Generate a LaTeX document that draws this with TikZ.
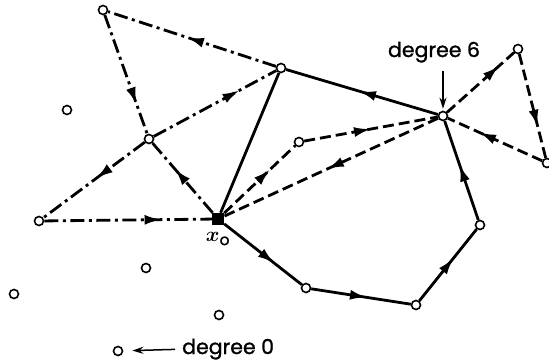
\documentclass[tikz,border=0pt]{standalone}
\usepackage{bm}
\usepackage{fontspec}
\setmainfont{Poppins}[FakeBold=1.2]
\usetikzlibrary{arrows.meta,decorations.markings}
\begin{document}
\begin{tikzpicture}[x=1pt,y=-1pt,
  vtx/.style={circle,draw,fill=white,line width=1.6pt,inner sep=0pt,minimum size=9pt},
  src/.style={rectangle,fill=black,inner sep=0pt,minimum size=12pt},
  edge/.style={line width=2.8pt},
  dd/.style={edge,dash pattern=on 14pt off 4.5pt on 3pt off 4.5pt},
  ds/.style={edge,dash pattern=on 11pt off 5pt},
  am/.style={postaction={decorate},decoration={markings,mark=at position #1 with {\arrow[solid]{Latex[length=17pt,width=10pt]}}}},
  am/.default=0.5,
  lbl/.style={font=\fontsize{20.5}{20.5}\selectfont,inner sep=0pt},
  ptr/.style={line width=1.5pt,-{Stealth[length=11pt,width=7pt]}}
]
\useasboundingbox (0,0) rectangle (549,362);
\fill[white] (0,0) rectangle (549,362);
% vertices
\node[vtx] (A) at (103,10) {};
\node[vtx] (B) at (281,68) {};
\node[vtx] (C) at (149,139) {};
\node[vtx] (D) at (39,221) {};
\node[src] (X) at (218,219) {};
\node[vtx] (E) at (443,116) {};
\node[vtx] (F) at (299,142) {};
\node[vtx] (G) at (518,49) {};
\node[vtx] (H) at (547,163) {};
\node[vtx] (I) at (480,225) {};
\node[vtx] (J) at (416,305) {};
\node[vtx] (K) at (306,288) {};
\node[vtx] (Z1) at (67,110) {};
\node[vtx] (Z2) at (146,268) {};
\node[vtx] (Z3) at (14,294) {};
\node[vtx] (Z4) at (219,315) {};
\node[vtx] (Z5) at (118,351) {};
% dash-dot edges
\draw[dd,am=0.53] (B) -- (A);
\draw[dd,am=0.75] (A) -- (C);
\draw[dd,am=0.7] (C) -- (B);
\draw[dd,am=0.48] (C) -- (D);
\draw[dd,am=0.7] (D) -- (X);
\draw[dd,am=0.63] (X) -- (C);
% solid edges
\draw[edge] (X) -- (B);
\draw[edge,am=0.52] (E) -- (B);
\draw[edge,am=0.65] (X) -- (K);
\draw[edge,am=0.56] (K) -- (J);
\draw[edge,am=0.6] (J) -- (I);
\draw[edge,am=0.56] (I) -- (E);
% dashed edges
\draw[ds,am=0.65] (X) -- (F);
\draw[ds,am=0.5] (F) -- (E);
\draw[ds,am=0.52] (E) -- (X);
\draw[ds,am=0.78] (E) -- (G);
\draw[ds,am=0.7] (G) -- (H);
\draw[ds,am=0.67] (H) -- (E);
% labels
\node[lbl,anchor=base] (d6) at (434,57) {degree 6};
\node[lbl,anchor=base west] (d0) at (182,354) {degree 0};
\node[font=\fontsize{22}{22}\selectfont,inner sep=0pt] (x0l) at (218,239) {$\bm{x}_{\mathrm o}$};
\draw[ptr,shorten <=8pt,shorten >=2pt] (E |- d6.south) -- (E);
\draw[ptr,shorten <=7pt,shorten >=9pt] (d0.west) -- (Z5);
\end{tikzpicture}
\end{document}
